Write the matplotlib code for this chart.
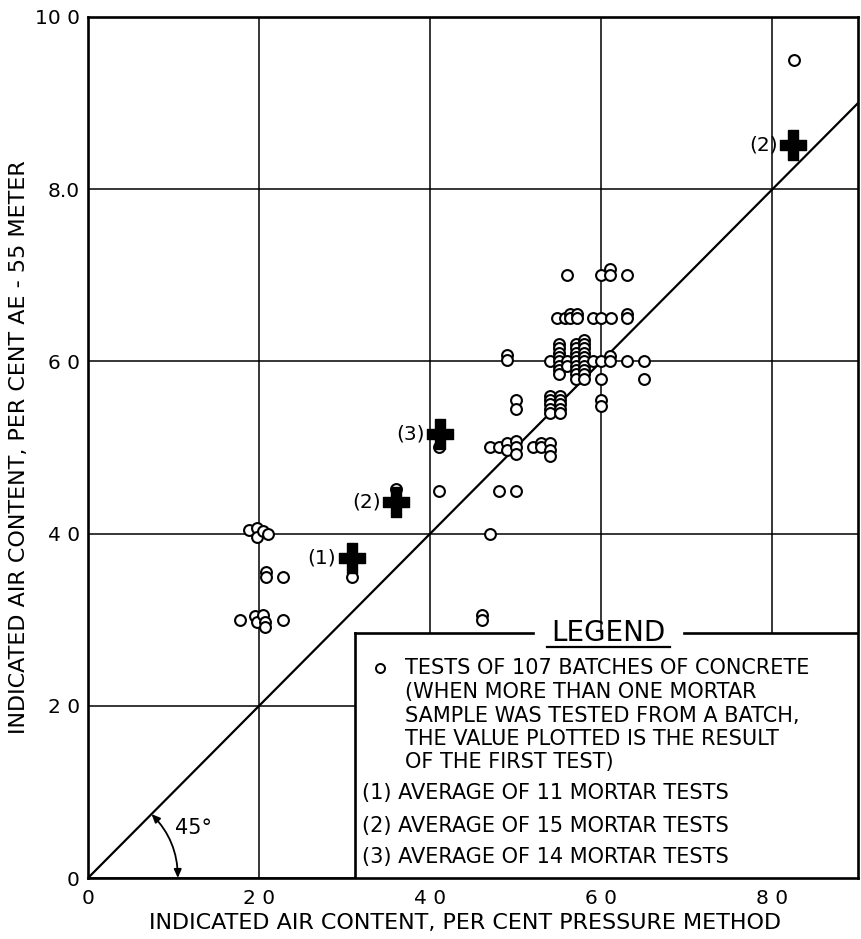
import matplotlib
matplotlib.use("Agg")
import matplotlib.pyplot as plt
from matplotlib.patches import Rectangle, FancyArrowPatch
import numpy as np

plt.rcParams['font.family'] = ['DejaVu Sans']

# ---- data -------------------------------------------------------------
# individual batch tests: pressure method (x) vs AE-55 meter (y), per cent
batch_x = [
    # near 2 per cent
    1.88, 1.97, 1.97, 2.05, 2.10,
    2.08, 2.08, 2.28,
    1.78, 1.95, 1.97, 2.05, 2.07, 2.07, 2.28,
    # scattered 3-5 per cent
    3.08, 3.60, 4.10, 4.10, 4.60, 4.60, 4.70, 4.80, 5.00,
    # row near 5.0
    4.70, 4.80, 4.90, 4.90, 5.00, 5.00, 5.00, 5.20, 5.30, 5.30, 5.40, 5.40, 5.40,
    5.00, 5.00, 4.90, 4.90,
    # group near 5.5
    5.40, 5.40, 5.40, 5.40, 5.40, 5.52, 5.52, 5.52, 5.52, 5.52,
    # main group near 6.0
    5.40,
    5.50, 5.50, 5.50, 5.50, 5.50, 5.50, 5.50, 5.50,
    5.60, 5.60,
    5.70, 5.70, 5.70, 5.70, 5.70, 5.70, 5.70, 5.70, 5.70,
    5.80, 5.80, 5.80, 5.80, 5.80, 5.80, 5.80, 5.80, 5.80, 5.80,
    5.90,
    6.00, 6.00, 6.00, 6.00,
    6.10, 6.10,
    6.30,
    6.50, 6.50,
    # row near 6.5
    5.48, 5.58, 5.63, 5.63, 5.71, 5.71, 5.90, 6.00, 6.11, 6.30, 6.30,
    # row near 7.0
    5.60, 6.00, 6.10, 6.10, 6.30,
    # high value
    8.25,
]
batch_y = [
    4.04, 4.07, 3.96, 4.03, 4.00,
    3.55, 3.50, 3.50,
    3.00, 3.04, 2.97, 3.05, 2.97, 2.92, 3.00,
    3.50, 4.52, 4.50, 5.00, 3.05, 3.00, 4.00, 4.50, 4.50,
    5.00, 5.00, 5.05, 4.97, 5.08, 5.00, 4.93, 5.00, 5.05, 5.00, 5.05, 4.97, 4.90,
    5.55, 5.45, 6.07, 6.02,
    5.60, 5.55, 5.50, 5.45, 5.40, 5.60, 5.55, 5.50, 5.45, 5.40,
    6.00,
    6.20, 6.15, 6.10, 6.05, 6.00, 5.95, 5.90, 5.85,
    6.00, 5.95,
    6.20, 6.15, 6.10, 6.05, 6.00, 5.95, 5.90, 5.85, 5.80,
    6.25, 6.20, 6.15, 6.10, 6.05, 6.00, 5.95, 5.90, 5.85, 5.80,
    6.00,
    6.00, 5.80, 5.55, 5.48,
    6.06, 6.00,
    6.00,
    6.00, 5.80,
    6.50, 6.50, 6.55, 6.50, 6.55, 6.50, 6.50, 6.50, 6.50, 6.55, 6.50,
    7.00, 7.00, 7.07, 7.00, 7.00,
    9.50,
]

# averages of several mortar tests
avg_x = [3.08, 3.60, 4.11, 8.24]
avg_y = [3.72, 4.37, 5.16, 8.51]
avg_labels = ["(1)", "(2)", "(3)", "(2)"]

x_ticks = [0, 2, 4, 6, 8]
x_tick_labels = ["0", "2 0", "4 0", "6 0", "8 0"]
y_ticks = [0, 2, 4, 6, 8, 10]
y_tick_labels = ["0", "2 0", "4 0", "6 0", "8.0", "10 0"]

legend_lines = [
    "TESTS OF 107 BATCHES OF CONCRETE",
    "(WHEN MORE THAN ONE MORTAR",
    "SAMPLE WAS TESTED FROM A BATCH,",
    "THE VALUE PLOTTED IS THE RESULT",
    "OF THE FIRST TEST)",
]
legend_avgs = [
    "(1) AVERAGE OF 11 MORTAR TESTS",
    "(2) AVERAGE OF 15 MORTAR TESTS",
    "(3) AVERAGE OF 14 MORTAR TESTS",
]

# ---- figure -------------------------------------------------------------
fig = plt.figure(figsize=(8.62, 9.39), dpi=100)
ax = fig.add_axes([88 / 862, 61 / 939, 770 / 862, 861 / 939])
ax.set_xlim(0, 9)
ax.set_ylim(0, 10)

for s in ax.spines.values():
    s.set_linewidth(1.9)
    s.set_zorder(6)

ax.set_xticks(x_ticks)
ax.set_xticklabels(x_tick_labels, fontsize=14.5)
ax.set_yticks(y_ticks)
ax.set_yticklabels(y_tick_labels, fontsize=14.5)
ax.tick_params(axis='x', length=0, pad=8)
ax.tick_params(axis='y', length=0, pad=6)

ax.set_axisbelow(True)
ax.grid(True, color='black', linewidth=1.1)

ax.set_xlabel("INDICATED AIR CONTENT, PER CENT PRESSURE METHOD", fontsize=16)
ax.xaxis.set_label_coords(0.49, -0.041)
ax.set_ylabel("INDICATED AIR CONTENT, PER CENT AE - 55 METER", fontsize=16)
ax.yaxis.set_label_coords(-0.076, 0.5)

# 45 degree line of equality
ax.plot([0, 9], [0, 9], color='black', linewidth=1.6, zorder=2)

# 45 degree arc with arrows
r = 1.05
arc = FancyArrowPatch((r, 0.0), (r * np.cos(np.pi / 4), r * np.sin(np.pi / 4)),
                      connectionstyle="arc3,rad=0.2",
                      arrowstyle="<|-|>,head_length=5,head_width=2.2",
                      color='black', linewidth=1.3, shrinkA=0, shrinkB=0, zorder=3)
ax.add_patch(arc)
ax.text(1.23, 0.58, "45°", fontsize=15, ha='center', va='center', zorder=3)

# batch tests
ax.plot(batch_x, batch_y, linestyle='none', marker='o', markersize=7.8,
        markerfacecolor='white', markeredgecolor='black', markeredgewidth=1.5,
        zorder=4)

# averages (heavy crosses)
h, v, t = 1.0, 1.15, 0.38
cross = [(-t, v), (t, v), (t, t), (h, t), (h, -t), (t, -t), (t, -v),
         (-t, -v), (-t, -t), (-h, -t), (-h, t), (-t, t), (-t, v)]
ax.plot(avg_x, avg_y, linestyle='none', marker=cross, markersize=21,
        color='black', zorder=5)
for xv, yv, lab in zip(avg_x, avg_y, avg_labels):
    ax.annotate(lab, (xv, yv), xytext=(-11, 0), textcoords='offset points',
                ha='right', va='center', fontsize=14.5, zorder=5)

# legend box
bx0, by1 = 3.12, 2.85
ax.add_patch(Rectangle((bx0, 0), 9 - bx0, by1, facecolor='white',
                       edgecolor='none', zorder=3))
ax.plot([bx0, bx0], [0, by1], color='black', linewidth=1.9, zorder=6,
        solid_capstyle='projecting')
ax.plot([bx0, 5.2], [by1, by1], color='black', linewidth=1.9, zorder=6,
        solid_capstyle='projecting')
ax.plot([6.97, 9], [by1, by1], color='black', linewidth=1.9, zorder=6)
ax.text(6.08, by1, "LEGEND", fontsize=20, ha='center', va='center', zorder=6)
ax.plot([5.37, 6.80], [2.68, 2.68], color='black', linewidth=1.6, zorder=6)

ax.plot([3.41], [2.44], linestyle='none', marker='o', markersize=6.5,
        markerfacecolor='white', markeredgecolor='black', markeredgewidth=1.4,
        zorder=6)
for yv, line in zip([2.44, 2.16, 1.88, 1.61, 1.35], legend_lines):
    ax.text(3.70, yv, line, fontsize=15, ha='left', va='center', zorder=6)
for yv, line in zip([0.99, 0.60, 0.24], legend_avgs):
    ax.text(3.20, yv, line, fontsize=15, ha='left', va='center', zorder=6)

fig.savefig("out.png", dpi=100)
